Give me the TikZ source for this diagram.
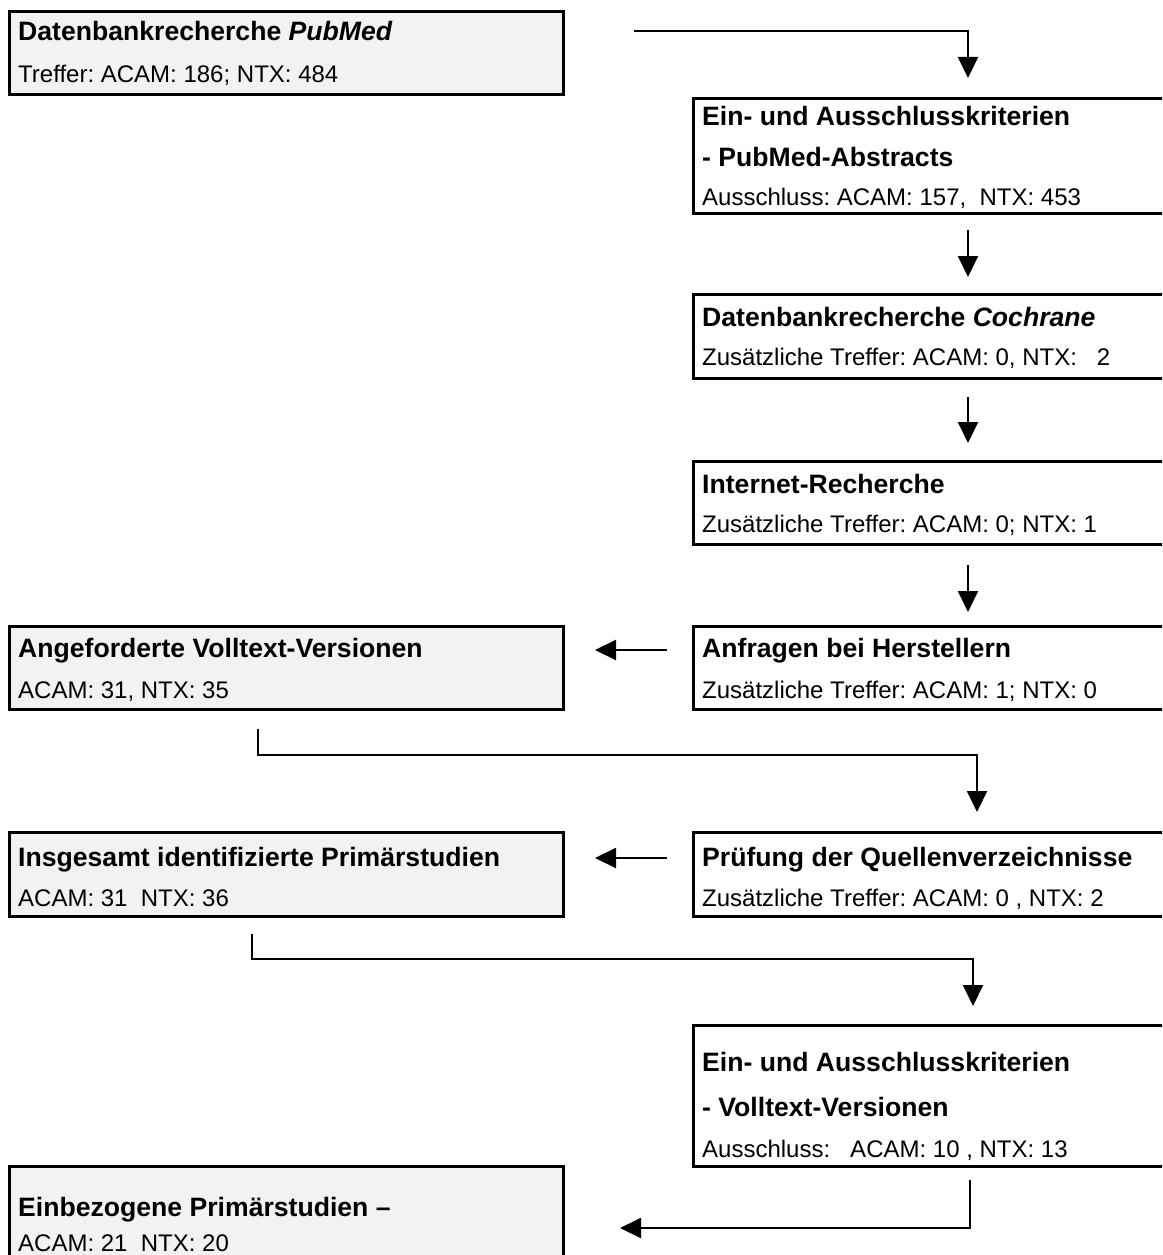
\documentclass[tikz,border=0pt]{standalone}
\usepackage{fontspec}
\setmainfont{Liberation Sans}
\usetikzlibrary{arrows.meta}
\definecolor{boxgray}{HTML}{F2F2F2}
\frenchspacing
\begin{document}
\begin{tikzpicture}[x=1pt,y=-1pt,
  box/.style={draw=black,line width=2.7pt,fill=white,anchor=north west,inner sep=0pt,minimum width=490pt},
  graybox/.style={box,fill=boxgray,minimum width=554pt},
  ttl/.style={anchor=base west,inner sep=0pt,font=\fontsize{26.6}{30}\selectfont\bfseries},
  txt/.style={anchor=base west,inner sep=0pt,font=\fontsize{24}{28}\selectfont},
  conn/.style={line width=2pt},
  arr/.style={conn,-{Triangle[length=21pt,width=20pt]}}]
\clip (0,0) rectangle (1162,1255);
\fill[white] (0,0) rectangle (1162,1255);

% boxes
\node[graybox,minimum height=83pt] (b1) at (8,10) {};
\node[box,minimum height=115pt] (r1) at (692,97) {};
\node[box,minimum height=84pt] (r2) at (692,293) {};
\node[box,minimum height=83pt] (r3) at (692,460) {};
\node[box,minimum height=83pt] (r4) at (692,625) {};
\node[graybox,minimum height=83pt] (l2) at (8,625) {};
\node[box,minimum height=84pt] (r5) at (692,831) {};
\node[graybox,minimum height=84pt] (l3) at (8,831) {};
\node[box,minimum height=141pt] (r6) at (692,1024) {};
\node[graybox,minimum height=130pt] (l4) at (8,1165) {};

% texts
\node[ttl] (b1t) at (18,41) {Datenbankrecherche \textit{PubMed}};
\node[txt] (b1n) at (18,82) {Treffer: ACAM: 186; NTX: 484};

\node[ttl] (r1t) at (702,125) {Ein- und Ausschlusskriterien};
\node[ttl] (r1u) at (702,166) {- PubMed-Abstracts};
\node[txt] (r1n) at (702,205) {Ausschluss: ACAM: 157,\ \ NTX: 453};

\node[ttl] (r2t) at (702,326) {Datenbankrecherche \textit{Cochrane}};
\node[txt] (r2n) at (702,365) {Zusätzliche Treffer: ACAM: 0, NTX:\ \ \ 2};

\node[ttl] (r3t) at (702,493) {Internet-Recherche};
\node[txt] (r3n) at (702,532) {Zusätzliche Treffer: ACAM: 0; NTX: 1};

\node[ttl] (r4t) at (702,657) {Anfragen bei Herstellern};
\node[txt] (r4n) at (702,698) {Zusätzliche Treffer: ACAM: 1; NTX: 0};

\node[ttl] (l2t) at (18,657) {Angeforderte Volltext-Versionen};
\node[txt] (l2n) at (18,698) {ACAM: 31, NTX: 35};

\node[ttl] (r5t) at (702,866) {Prüfung der Quellenverzeichnisse};
\node[txt] (r5n) at (702,906) {Zusätzliche Treffer: ACAM: 0 , NTX: 2};

\node[ttl] (l3t) at (18,866) {Insgesamt identifizierte Primärstudien};
\node[txt] (l3n) at (18,906) {ACAM: 31\ \ NTX: 36};

\node[ttl] (r6t) at (702,1071) {Ein- und Ausschlusskriterien};
\node[ttl] (r6u) at (702,1116) {- Volltext-Versionen};
\node[txt] (r6n) at (702,1157) {Ausschluss:\ \ \ ACAM: 10 , NTX: 13};

\node[ttl] (l4t) at (18,1216) {Einbezogene Primärstudien –};
\node[txt] (l4n) at (18,1251) {ACAM: 21\ \ NTX: 20};

% connector end points
\coordinate (c1s) at (634,31);
\coordinate (c1e) at (968,78);
\coordinate (c2s) at (968,230);
\coordinate (c2e) at (968,277);
\coordinate (c3s) at (968,397);
\coordinate (c3e) at (968,443);
\coordinate (c4s) at (968,565);
\coordinate (c4e) at (968,612);
\coordinate (c5s) at (667,650);
\coordinate (c5e) at (595,650);
\coordinate (c6s) at (258,729);
\coordinate (c6m) at (977,755);
\coordinate (c6e) at (977,812);
\coordinate (c7s) at (667,858);
\coordinate (c7e) at (595,858);
\coordinate (c8s) at (252,934);
\coordinate (c8m) at (973,959);
\coordinate (c8e) at (973,1006);
\coordinate (c9s) at (970,1180);
\coordinate (c9e) at (620,1228);

% connectors
\draw[arr] (c1s) -| (c1e);
\draw[arr] (c2s) -- (c2e);
\draw[arr] (c3s) -- (c3e);
\draw[arr] (c4s) -- (c4e);
\draw[arr] (c5s) -- (c5e);
\draw[arr] (c6s) |- (c6m) -- (c6e);
\draw[arr] (c7s) -- (c7e);
\draw[arr] (c8s) |- (c8m) -- (c8e);
\draw[arr] (c9s) |- (c9e);
\end{tikzpicture}
\end{document}
